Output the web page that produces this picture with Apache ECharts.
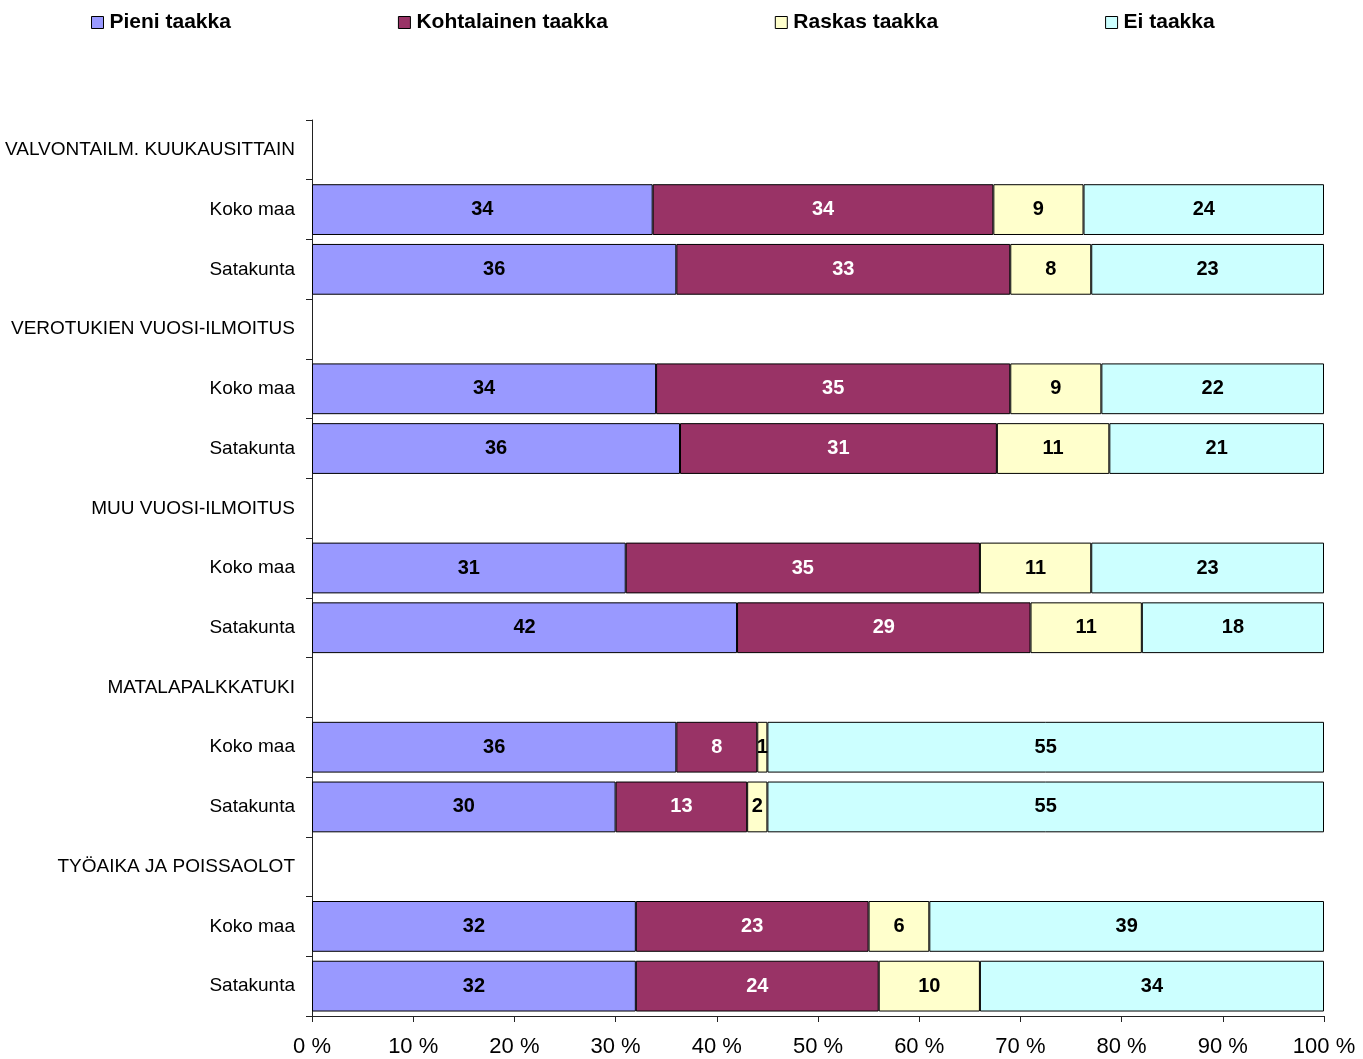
<!DOCTYPE html>
<html>
<head>
<meta charset="utf-8">
<title>Taakka</title>
<script src="https://cdn.jsdelivr.net/npm/echarts@6/dist/echarts.min.js"></script>
<style>
    html, body { margin: 0; padding: 0; background: #fff; }
    #chart { width: 1363px; height: 1059px; }
</style>
</head>
<body>
<div id="chart"></div>
<script>
// rivit ylhäältä alas; otsikkoriveillä ei ole arvoja
const categories = [
    "VALVONTAILM. KUUKAUSITTAIN", "Koko maa", "Satakunta",
    "VEROTUKIEN VUOSI-ILMOITUS", "Koko maa", "Satakunta",
    "MUU VUOSI-ILMOITUS", "Koko maa", "Satakunta",
    "MATALAPALKKATUKI", "Koko maa", "Satakunta",
    "TYÖAIKA JA POISSAOLOT", "Koko maa", "Satakunta",
];
const pieni       = [null, 34, 36, null, 34, 36, null, 31, 42, null, 36, 30, null, 32, 32];
const kohtalainen = [null, 34, 33, null, 35, 31, null, 35, 29, null, 8, 13, null, 23, 24];
const raskas      = [null, 9, 8, null, 9, 11, null, 11, 11, null, 1, 2, null, 6, 10];
const eiTaakkaa   = [null, 24, 23, null, 22, 21, null, 23, 18, null, 55, 55, null, 39, 34];
const xTicks = [0, 10, 20, 30, 40, 50, 60, 70, 80, 90, 100];

const seriesDefs = [
    { name: "Pieni taakka", data: pieni, color: "#9999FF", text: "#000" },
    { name: "Kohtalainen taakka", data: kohtalainen, color: "#993366", text: "#fff" },
    { name: "Raskas taakka", data: raskas, color: "#FFFFCC", text: "#000" },
    { name: "Ei taakka", data: eiTaakkaa, color: "#CCFFFF", text: "#000" },
];

// 100 % pinottu: skaalataan rivin summaan
const rowSums = categories.map((c, i) =>
    seriesDefs.reduce((s, d) => s + (d.data[i] || 0), 0));

const font = "Liberation Sans, Arial, sans-serif";

let chart = echarts.init(document.getElementById("chart"));
chart.setOption({
    animation: false,
    textStyle: { fontFamily: font },
    legend: {
        left: 86,
        top: 7,
        itemGap: 167,
        itemWidth: 12,
        itemHeight: 12,
        icon: "rect",
        textStyle: { fontSize: 21, fontWeight: "bold", color: "#000", padding: [0, 0, 0, 1] },
        data: seriesDefs.map(d => ({ name: d.name, itemStyle: { borderColor: "#000", borderWidth: 1 } })),
    },
    grid: { left: 312, right: 39, top: 120, bottom: 43, containLabel: false },
    xAxis: {
        type: "value",
        min: 0,
        max: 100,
        interval: 10,
        splitLine: { show: false },
        axisLine: { show: true, lineStyle: { color: "#222", width: 1 } },
        axisTick: { show: true, length: 6, lineStyle: { color: "#222" } },
        axisLabel: {
            color: "#000", fontSize: 22, margin: 20,
            formatter: v => xTicks.includes(v) ? v + " %" : "",
        },
    },
    yAxis: {
        type: "category",
        inverse: true,
        data: categories,
        axisLine: { show: true, lineStyle: { color: "#222", width: 1 } },
        axisTick: { show: true, length: 6, lineStyle: { color: "#222" } },
        axisLabel: { color: "#000", fontSize: 19, margin: 17 },
    },
    series: seriesDefs.map(d => ({
        name: d.name,
        type: "bar",
        stack: "total",
        barCategoryGap: "15%",
        itemStyle: { color: d.color, borderColor: "#000", borderWidth: 1 },
        label: {
            show: true,
            position: "inside",
            color: d.text,
            fontSize: 20,
            fontWeight: "bold",
            formatter: p => d.data[p.dataIndex],
        },
        data: d.data.map((v, i) => v == null ? null : v / rowSums[i] * 100),
    })),
});
</script>
</body>
</html>
